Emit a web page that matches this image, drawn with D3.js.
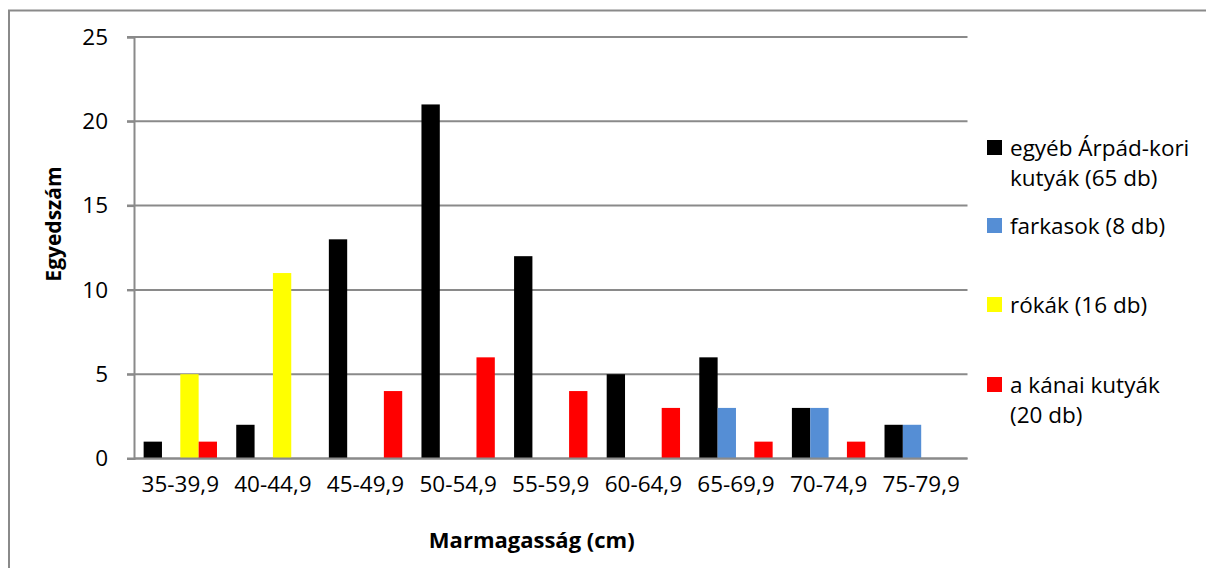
<!DOCTYPE html>
<html>
<head>
<meta charset="utf-8">
<script src="https://cdn.jsdelivr.net/npm/d3@7"></script>
<style>
  html, body { margin: 0; padding: 0; background: #fff; }
  svg { display: block; font-family: "Open Sans", Lato, sans-serif; }
</style>
</head>
<body>
<svg id="chart" width="1206" height="568"></svg>
<script>
// Height-class categories (cm)
const categories = ["35-39,9", "40-44,9", "45-49,9", "50-54,9", "55-59,9",
                    "60-64,9", "65-69,9", "70-74,9", "75-79,9"];

// Counts per height class, one array per group
const egyebKutyak = [1, 2, 13, 21, 12, 5, 6, 3, 2];
const farkasok    = [0, 0, 0, 0, 0, 0, 3, 3, 2];
const rokak       = [5, 11, 0, 0, 0, 0, 0, 0, 0];
const kanaiKutyak = [1, 0, 4, 6, 4, 3, 1, 1, 0];

const seriesNames = [
  ["egyéb Árpád-kori", "kutyák (65 db)"],
  ["farkasok (8 db)"],
  ["rókák (16 db)"],
  ["a kánai kutyák", "(20 db)"]
];
const seriesValues = [egyebKutyak, farkasok, rokak, kanaiKutyak];
const seriesColors = ["#000000", "#558ed5", "#ffff00", "#ff0000"];

const yTicks = [0, 5, 10, 15, 20, 25];

const svg = d3.select("#chart");
const plot = { left: 134, right: 967.5, top: 37, bottom: 458.5 };
const font = "'Open Sans', Lato, sans-serif";
const labelSize = 22.5;

// Outer chart frame (right and bottom edges fall outside the canvas)
svg.append("rect")
  .attr("x", 9).attr("y", 10.5)
  .attr("width", 1300).attr("height", 700)
  .attr("fill", "none").attr("stroke", "#8a8a8a").attr("stroke-width", 2);

const x0 = d3.scaleBand().domain(categories).range([plot.left, plot.right]).padding(0);
const gapRatio = 1.05;
const barW = x0.bandwidth() / (seriesValues.length + gapRatio);
const groupOffset = gapRatio * barW / 2;

const y = d3.scaleLinear().domain([0, 25]).range([plot.bottom, plot.top]);

// Horizontal gridlines
svg.append("g").selectAll("line")
  .data(yTicks)
  .join("line")
  .attr("x1", plot.left - 7).attr("x2", plot.right)
  .attr("y1", d => y(d)).attr("y2", d => y(d))
  .attr("stroke", "#8a8a8a").attr("stroke-width", 2);

// Y axis
const yAxis = svg.append("g")
  .attr("transform", `translate(${plot.left},0)`)
  .call(d3.axisLeft(y).tickValues(yTicks).tickSize(7).tickPadding(19).tickFormat(d3.format("d")));
yAxis.select(".domain").attr("stroke", "#8a8a8a").attr("stroke-width", 2);
yAxis.selectAll(".tick line").attr("stroke", "#8a8a8a").attr("stroke-width", 2);
yAxis.selectAll("text").attr("font-size", labelSize).attr("fill", "#000")
  .attr("font-family", font);

// Bars
const groups = svg.append("g").selectAll("g")
  .data(seriesValues)
  .join("g")
  .attr("fill", (d, i) => seriesColors[i]);

groups.each(function (vals, si) {
  d3.select(this).selectAll("rect")
    .data(vals.map((v, ci) => ({ v, c: categories[ci] })))
    .join("rect")
    .attr("x", d => x0(d.c) + groupOffset + si * barW)
    .attr("width", barW)
    .attr("y", d => y(d.v))
    .attr("height", d => y(0) - y(d.v));
});

// Baseline on top of bars
svg.append("line")
  .attr("x1", plot.left).attr("x2", plot.right)
  .attr("y1", y(0)).attr("y2", y(0))
  .attr("stroke", "#8a8a8a").attr("stroke-width", 2);

// X category labels
const xAxis = svg.append("g")
  .attr("transform", `translate(0,${plot.bottom})`)
  .call(d3.axisBottom(x0).tickSize(0).tickPadding(18));
xAxis.select(".domain").remove();
xAxis.selectAll("text").attr("font-size", labelSize).attr("fill", "#000")
  .attr("font-family", font);

// Axis titles
svg.append("text")
  .attr("x", (plot.left + plot.right) / 2 - 19).attr("y", 548)
  .attr("text-anchor", "middle")
  .attr("font-size", 22).attr("font-weight", "bold")
  .text("Marmagasság (cm)");

svg.append("text")
  .attr("transform", "translate(61,224) rotate(-90)")
  .attr("text-anchor", "middle")
  .attr("font-size", 21).attr("font-weight", "bold")
  .text("Egyedszám");

// Legend
const legendY = [148, 226, 305, 385];
const legend = svg.append("g").selectAll("g")
  .data(seriesNames)
  .join("g")
  .attr("transform", (d, i) => `translate(987,${legendY[i]})`);

legend.append("rect")
  .attr("x", 0).attr("y", -8)
  .attr("width", 15).attr("height", 15)
  .attr("fill", (d, i) => seriesColors[i]);

legend.append("text")
  .attr("x", 23).attr("y", 8)
  .attr("font-size", labelSize).attr("fill", "#000")
  .selectAll("tspan")
  .data(d => d)
  .join("tspan")
  .attr("x", 23)
  .attr("dy", (d, i) => i === 0 ? 0 : 30)
  .text(d => d);
</script>
</body>
</html>
